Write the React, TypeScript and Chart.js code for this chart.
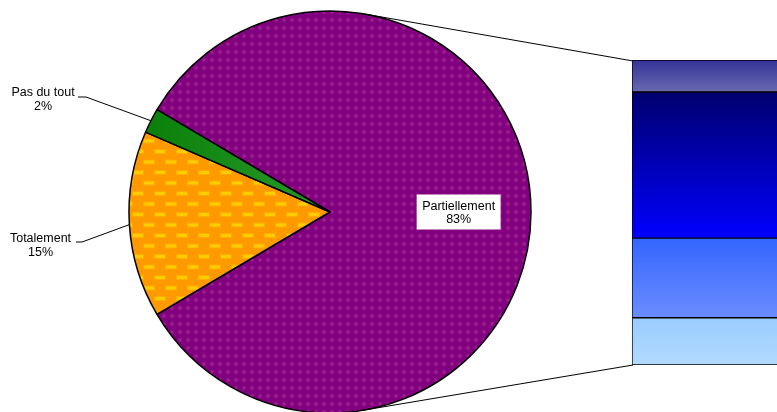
import React, { useEffect, useRef } from "react";
import { Chart, registerables } from "chart.js";

Chart.register(...registerables);

// ---- data ----
const pieLabels = ["Partiellement", "Totalement", "Pas du tout"];
const pieValues = [83, 15, 2];
const pieDisplay = ["83%", "15%", "2%"];
// breakdown bar (bottom to top)
const barSegments = ["Segment 1", "Segment 2", "Segment 3", "Segment 4"];
const barValues = [15.5, 26.1, 47.9, 10.5];
const barCategory = [""];

// ---- styles / layout ----
const FONT = '12.5px "Liberation Sans", Arial, sans-serif';
const BAR_LEFT = 632;
const BAR_TOP = 60;
const BAR_W = 170;
const BAR_H = 305;
const BAR_CORNER_TOP = { x: 633, y: 61 };
const BAR_CORNER_BOTTOM = { x: 633, y: 365 };
const barGradients: [string, string][] = [
  ["#99ccff", "#b2daff"],
  ["#3366ff", "#6b8cff"],
  ["#00006e", "#0000ff"],
  ["#333399", "#6a6ab0"],
];
const outsideLabels: Record<number, { tx: number; ty: number; endX: number; elbowX: number; lineY: number }> = {
  1: { tx: 40.5, ty: 239, endX: 76, elbowX: 82, lineY: 242 },
  2: { tx: 43, ty: 93, endX: 78, elbowX: 86, lineY: 97 },
};

function purplePattern(ctx: CanvasRenderingContext2D) {
  const c = document.createElement("canvas");
  c.width = 8;
  c.height = 8;
  const g = c.getContext("2d")!;
  g.fillStyle = "#800080";
  g.fillRect(0, 0, 8, 8);
  const rg = g.createRadialGradient(4, 4, 0, 4, 4, 2.8);
  rg.addColorStop(0, "rgba(200,80,150,0.55)");
  rg.addColorStop(1, "rgba(200,80,150,0)");
  g.fillStyle = rg;
  g.fillRect(0, 0, 8, 8);
  return ctx.createPattern(c, "repeat")!;
}

function orangePattern(ctx: CanvasRenderingContext2D) {
  const c = document.createElement("canvas");
  c.width = 22;
  c.height = 21;
  const g = c.getContext("2d")!;
  g.fillStyle = "#ff9900";
  g.fillRect(0, 0, 22, 21);
  const dash = (x: number, y: number) => {
    g.fillStyle = "rgba(255,185,0,0.6)";
    g.fillRect(x - 1, y - 1, 12, 5);
    g.fillStyle = "#ffcc00";
    g.fillRect(x, y, 10, 3);
  };
  dash(1, 3);
  dash(12, 13.5);
  dash(-10, 13.5);
  return ctx.createPattern(c, "repeat")!;
}

function greenFill(ctx: CanvasRenderingContext2D) {
  const gr = ctx.createLinearGradient(150, 0, 330, 0);
  gr.addColorStop(0, "#0a800a");
  gr.addColorStop(1, "#2a9a2a");
  return gr;
}

const piePlugin = {
  id: "pieDecor",
  afterDatasetsDraw(chart: any) {
    const ctx: CanvasRenderingContext2D = chart.ctx;
    const meta = chart.getDatasetMeta(0);
    const arc0 = meta.data[0];
    const cx = arc0.x;
    const cy = arc0.y;
    const r = arc0.outerRadius;
    ctx.save();
    ctx.strokeStyle = "#000";
    ctx.lineWidth = 1;
    const tangent = (p: { x: number; y: number }, sign: number) => {
      const dx = p.x - cx;
      const dy = p.y - cy;
      const d = Math.hypot(dx, dy);
      const a = Math.atan2(dy, dx) + sign * Math.acos(Math.min(1, r / d));
      return { x: cx + r * Math.cos(a), y: cy + r * Math.sin(a) };
    };
    const t1 = tangent(BAR_CORNER_TOP, -1);
    const t2 = tangent(BAR_CORNER_BOTTOM, 1);
    ctx.beginPath();
    ctx.moveTo(t1.x, t1.y);
    ctx.lineTo(BAR_CORNER_TOP.x, BAR_CORNER_TOP.y);
    ctx.moveTo(t2.x, t2.y);
    ctx.lineTo(BAR_CORNER_BOTTOM.x, BAR_CORNER_BOTTOM.y);
    ctx.stroke();

    ctx.font = FONT;
    ctx.fillStyle = "#000";
    ctx.textAlign = "center";
    ctx.textBaseline = "middle";

    meta.data.forEach((arc: any, i: number) => {
      const mid = (arc.startAngle + arc.endAngle) / 2;
      if (outsideLabels[i]) {
        const L = outsideLabels[i];
        const ex = cx + r * Math.cos(mid);
        const ey = cy + r * Math.sin(mid);
        ctx.beginPath();
        ctx.moveTo(ex, ey);
        ctx.lineTo(L.elbowX, L.lineY);
        ctx.lineTo(L.endX, L.lineY);
        ctx.stroke();
        ctx.fillText(pieLabels[i], L.tx, L.ty);
        ctx.fillText(pieDisplay[i], L.tx, L.ty + 14);
      } else {
        const lx = cx + r * 0.64 * Math.cos(mid);
        const ly = cy + r * 0.64 * Math.sin(mid);
        const w = Math.max(ctx.measureText(pieLabels[i]).width, ctx.measureText(pieDisplay[i]).width) + 11;
        const h = 35;
        ctx.fillStyle = "#fff";
        ctx.fillRect(lx - w / 2, ly - h / 2, w, h);
        ctx.fillStyle = "#000";
        ctx.fillText(pieLabels[i], lx, ly - 5.5);
        ctx.fillText(pieDisplay[i], lx, ly + 8);
      }
    });
    ctx.restore();
  },
};

export default function App() {
  const pieRef = useRef<HTMLCanvasElement>(null);
  const barRef = useRef<HTMLCanvasElement>(null);

  useEffect(() => {
    const pc = pieRef.current!;
    const bc = barRef.current!;
    const pctx = pc.getContext("2d")!;
    const total = pieValues.reduce((a, b) => a + b, 0);
    const rotation = 90 - (pieValues[0] / total) * 180;

    const pie = new Chart(pc, {
      type: "pie",
      data: {
        labels: pieLabels,
        datasets: [
          {
            data: pieValues,
            backgroundColor: [purplePattern(pctx), orangePattern(pctx), greenFill(pctx)],
            borderColor: "#000",
            borderWidth: 1.5,
            hoverOffset: 0,
          },
        ],
      },
      options: {
        responsive: false,
        animation: false,
        events: [],
        rotation,
        radius: 201,
        layout: { padding: { left: 129, right: 246, top: 12, bottom: 0 } },
        plugins: { legend: { display: false }, tooltip: { enabled: false } },
      } as any,
      plugins: [piePlugin],
    });

    const bar = new Chart(bc, {
      type: "bar",
      data: {
        labels: barCategory,
        datasets: barSegments.map((name, i) => ({
          label: name,
          data: [barValues[i]],
          backgroundColor: (c: any) => {
            const y = c.chart.scales && c.chart.scales.y;
            if (!y) return barGradients[i][0];
            const bottom = barValues.slice(0, i).reduce((a, b) => a + b, 0);
            const top = bottom + barValues[i];
            const y0 = y.getPixelForValue(top);
            const y1 = y.getPixelForValue(bottom);
            if (!isFinite(y0) || !isFinite(y1) || y0 === y1) return barGradients[i][0];
            const g = c.chart.ctx.createLinearGradient(0, y0, 0, y1);
            g.addColorStop(0, barGradients[i][0]);
            g.addColorStop(1, barGradients[i][1]);
            return g;
          },
          borderColor: "#000",
          borderWidth: 1,
          borderSkipped: false,
          barPercentage: 1,
          categoryPercentage: 1,
        })),
      },
      options: {
        responsive: false,
        animation: false,
        events: [],
        layout: { padding: 0 },
        plugins: { legend: { display: false }, tooltip: { enabled: false } },
        scales: {
          x: { display: false, stacked: true },
          y: { display: false, stacked: true, min: 0, max: 100 },
        },
      },
    });

    return () => {
      pie.destroy();
      bar.destroy();
    };
  }, []);

  return (
    <div style={{ position: "fixed", left: 0, top: 0, width: 777, height: 412, overflow: "hidden", background: "#fff" }}>
      <canvas ref={pieRef} width={777} height={412} style={{ position: "absolute", left: 0, top: 0 }} />
      <canvas
        ref={barRef}
        width={BAR_W}
        height={BAR_H}
        style={{ position: "absolute", left: BAR_LEFT, top: BAR_TOP }}
      />
    </div>
  );
}
